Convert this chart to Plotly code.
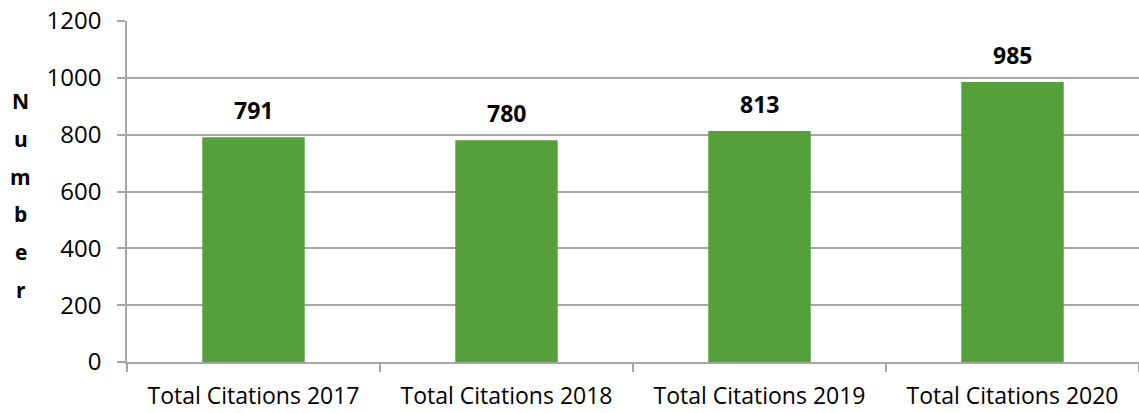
import plotly.graph_objects as go

# Citation counts per year
categories = ["Total Citations 2017", "Total Citations 2018",
              "Total Citations 2019", "Total Citations 2020"]
citations = [791, 780, 813, 985]
y_ticks = [0, 200, 400, 600, 800, 1000, 1200]
axis_title = "Number"

FONT = "Open Sans"
GRID = "#a6a6a6"
BAR = "#55a03b"

fig = go.Figure(
    go.Bar(
        x=categories,
        y=citations,
        marker=dict(color=BAR, line=dict(width=0)),
        width=0.405,
        hoverinfo="x+y",
    )
)

# Value labels above each bar
for cat, val in zip(categories, citations):
    fig.add_annotation(
        x=cat, y=val, text=f"<b>{val}</b>", showarrow=False,
        yanchor="middle", yshift=27,
        font=dict(family=FONT, size=23, color="#000000"),
    )

# Vertical, stacked y-axis title
for i, ch in enumerate(axis_title):
    fig.add_annotation(
        xref="paper", yref="paper",
        x=-0.105, y=(362 - 101 - i * 37.8) / 341,
        text=f"<b>{ch}</b>", showarrow=False,
        xanchor="center", yanchor="middle",
        font=dict(family=FONT, size=21, color="#000000"),
    )

fig.update_layout(
    width=1139, height=413,
    margin=dict(l=127, r=0, t=21, b=51),
    paper_bgcolor="white", plot_bgcolor="white",
    showlegend=False,
    font=dict(family=FONT, size=22, color="#000000"),
)

fig.update_xaxes(
    type="category",
    showline=True, linecolor=GRID, linewidth=1.5,
    ticks="outside", tickson="boundaries", ticklen=8, tickcolor=GRID, tickwidth=1.5,
    ticklabelstandoff=13,
    showgrid=False,
    tickfont=dict(family=FONT, size=23, color="#000000"),
)

fig.update_yaxes(
    range=[0, 1200],
    tickvals=y_ticks,
    showline=True, linecolor=GRID, linewidth=1.5,
    ticks="outside", ticklen=8, tickcolor=GRID, tickwidth=1.5,
    ticklabelstandoff=11,
    showgrid=True, gridcolor=GRID, gridwidth=1.5,
    zeroline=False,
    tickfont=dict(family=FONT, size=24, color="#000000"),
)

fig.write_html("out.html")
